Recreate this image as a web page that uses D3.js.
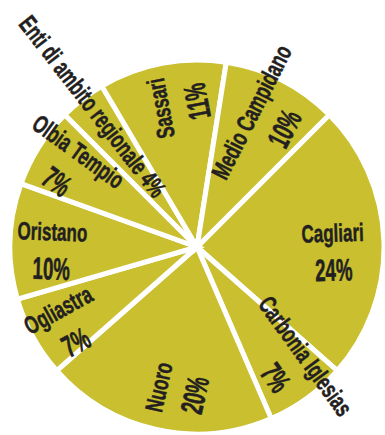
<!DOCTYPE html>
<html>
<head>
<meta charset="utf-8">
<script src="https://cdn.jsdelivr.net/npm/d3@7"></script>
<style>
  html, body { margin: 0; padding: 0; background: #fff; }
  svg { display: block; }
</style>
</head>
<body>
<svg id="chart" width="385" height="435"></svg>
<script>
// Share of the total by area
const categories = ["Cagliari", "Carbonia Iglesias", "Nuoro", "Ogliastra", "Oristano",
  "Olbia Tempio", "Enti di ambito regionale", "Sassari", "Medio Campidano"];
const values = [24, 7, 20, 7, 10, 7, 4, 11, 10];

const W = 385, H = 435;
const cx = 197, cy = 247, radius = 187;
const fill = "#c9bf2f";
const ink = "#231f20";
const font = "'Liberation Sans', Arial, sans-serif";

// label placement along each slice: distance from the centre, sideways shift,
// and an optional extra tilt in degrees
const labelLayout = {
  "Cagliari": { r: 136, dv: -1 },
  "Carbonia Iglesias": { r: 152, dv: -15 },
  "Nuoro": { r: 145, dv: 2 },
  "Ogliastra": { r: 152, dv: -3 },
  "Oristano": { r: 145, dv: -2 },
  "Olbia Tempio": { r: 152, dv: 1, tilt: 3.5 },
  "Enti di ambito regionale": { r: 175, dv: 5 },
  "Sassari": { r: 143, dv: -1 },
  "Medio Campidano": { r: 145, dv: -4 }
};

const data = categories.map((c, i) => ({ name: c, value: values[i] }));

const pie = d3.pie()
  .value(d => d.value)
  .sort(null)
  .startAngle(Math.PI / 4)
  .endAngle(Math.PI / 4 + 2 * Math.PI);

const arc = d3.arc().innerRadius(0).outerRadius(radius);

const svg = d3.select("#chart");
const g = svg.append("g").attr("transform", `translate(${cx},${cy})`);

const arcs = pie(data);

g.selectAll("path.slice")
  .data(arcs)
  .join("path")
  .attr("class", "slice")
  .attr("d", arc)
  .attr("fill", fill)
  .attr("stroke", "#fff")
  .attr("stroke-width", 5)
  .attr("stroke-linejoin", "miter");

const norm = a => { while (a > 180) a -= 360; while (a <= -180) a += 360; return a; };

// condensed look: squeeze the bold face horizontally
const nameSize = 25, nameSqueeze = 0.68;
const pctSize = 31, pctSqueeze = 0.6;

g.selectAll("g.label")
  .data(arcs)
  .join("g")
  .attr("class", "label")
  .each(function (d) {
    const mid = (d.startAngle + d.endAngle) / 2 * 180 / Math.PI;
    let rot = norm(mid - 90);
    let inward = false;
    if (rot > 90 || rot < -110) { rot = norm(rot - 180); inward = true; }
    const lay = labelLayout[d.data.name] || { r: 145, dv: -2 };
    rot += lay.tilt || 0;
    const x = inward ? -lay.r : lay.r;
    const sel = d3.select(this).attr("transform", `rotate(${rot})`);
    const pct = d.data.value + "%";
    const narrow = d.data.value < 5;

    sel.append("text")
      .attr("transform", `translate(${x},${lay.dv}) scale(${nameSqueeze},1)`)
      .attr("text-anchor", "middle")
      .attr("font-family", font)
      .attr("font-weight", "bold")
      .attr("font-size", nameSize)
      .attr("fill", ink)
      .attr("stroke", ink)
      .attr("stroke-width", 0.5)
      .text(narrow ? d.data.name + " " + pct : d.data.name);

    if (!narrow) {
      sel.append("text")
        .attr("transform", `translate(${x},${lay.dv + 39}) scale(${pctSqueeze},1)`)
        .attr("text-anchor", "middle")
        .attr("font-family", font)
        .attr("font-weight", "bold")
        .attr("font-size", pctSize)
        .attr("fill", ink)
        .attr("stroke", ink)
        .attr("stroke-width", 0.6)
        .text(pct);
    }
  });
</script>
</body>
</html>
